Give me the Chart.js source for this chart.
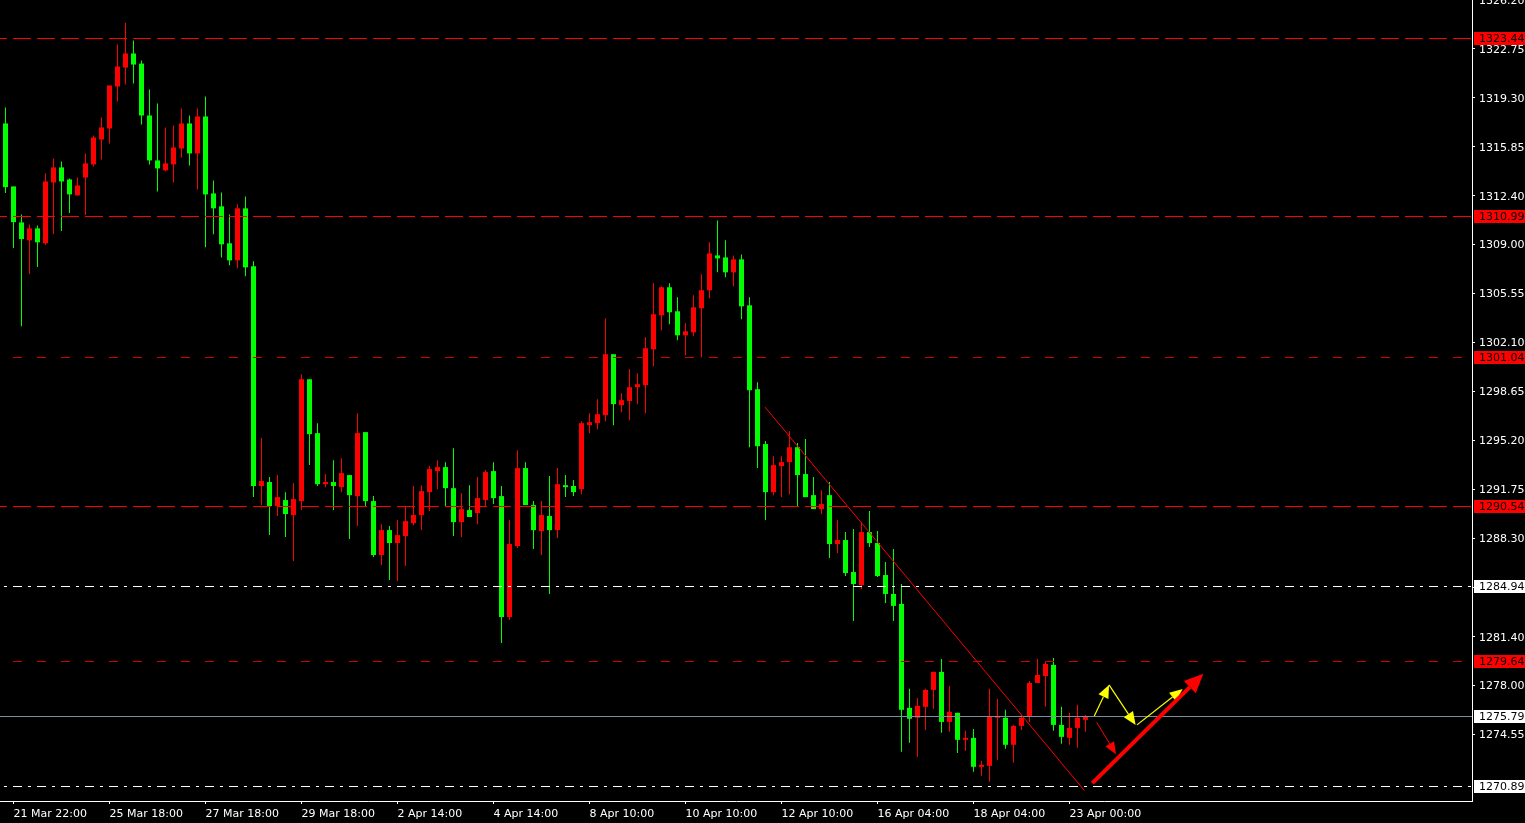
<!DOCTYPE html>
<html>
<head>
<meta charset="utf-8">
<title>XAUUSD H4</title>
<script src="https://cdn.jsdelivr.net/npm/chart.js@4.4.1/dist/chart.umd.min.js"></script>
<style>
  html, body { margin: 0; padding: 0; background: #000; overflow: hidden; }
  canvas { display: block; }
</style>
</head>
<body>
<canvas id="grafico" width="1525" height="823"></canvas>
<script>
// H4 candles, oldest first
const abertura = [
  1317.50, 1313.07, 1310.54, 1309.28, 1310.12, 1309.07, 1313.35, 1314.41, 1313.56, 1312.44,
  1313.70, 1314.62, 1316.37, 1317.15, 1320.10, 1321.43, 1322.42, 1321.71, 1318.06, 1314.90,
  1314.20, 1314.62, 1315.74, 1317.50, 1315.39, 1317.99, 1312.58, 1311.67, 1309.07, 1307.87,
  1311.53, 1307.45, 1292.00, 1292.28, 1290.59, 1291.01, 1289.96, 1290.94, 1299.51, 1295.72,
  1292.13, 1292.28, 1291.92, 1292.77, 1291.29, 1295.79, 1290.94, 1287.15, 1288.90, 1287.99,
  1288.48, 1289.39, 1289.96, 1291.57, 1293.05, 1293.33, 1291.85, 1289.46, 1290.31, 1290.10,
  1291.01, 1293.05, 1291.29, 1282.79, 1287.78, 1293.26, 1290.66, 1288.83, 1289.89, 1288.90,
  1292.06, 1292.00, 1291.78, 1296.28, 1296.42, 1296.98, 1301.27, 1297.69, 1297.97, 1298.95,
  1299.09, 1301.62, 1304.01, 1305.98, 1304.29, 1302.60, 1302.81, 1304.50, 1305.77, 1308.22,
  1308.08, 1307.03, 1307.94, 1304.71, 1298.81, 1294.95, 1291.57, 1293.40, 1293.68, 1294.73,
  1292.84, 1291.36, 1290.38, 1291.36, 1287.92, 1288.20, 1285.95, 1285.04, 1288.76, 1287.99,
  1285.74, 1284.41, 1283.71, 1276.40, 1275.70, 1276.47, 1277.66, 1278.93, 1275.41, 1276.05,
  1274.15, 1274.29, 1272.25, 1272.32, 1275.70, 1275.70, 1273.80, 1275.13, 1275.83, 1278.15,
  1278.64, 1279.42, 1275.20, 1274.29, 1274.99, 1275.55
];
const maxima = [
  1318.62, 1313.07, 1311.10, 1310.40, 1310.33, 1313.99, 1315.04, 1314.83, 1313.63, 1313.70,
  1315.39, 1316.66, 1317.92, 1320.17, 1323.05, 1324.59, 1323.33, 1321.92, 1319.89, 1318.90,
  1317.22, 1317.36, 1318.55, 1318.06, 1318.55, 1319.40, 1313.49, 1312.65, 1311.10, 1311.81,
  1312.37, 1307.80, 1295.37, 1292.63, 1292.77, 1291.57, 1292.20, 1299.86, 1299.51, 1296.42,
  1292.84, 1293.82, 1293.96, 1292.77, 1297.12, 1295.79, 1291.29, 1289.32, 1289.18, 1289.61,
  1290.59, 1292.00, 1292.06, 1293.40, 1293.82, 1293.68, 1294.66, 1291.50, 1292.06, 1292.63,
  1293.12, 1293.68, 1292.00, 1289.61, 1294.52, 1293.68, 1290.94, 1290.94, 1292.70, 1293.26,
  1292.77, 1292.42, 1296.56, 1297.12, 1298.11, 1303.80, 1301.27, 1298.53, 1300.21, 1299.93,
  1302.46, 1306.26, 1306.05, 1306.26, 1305.27, 1303.45, 1305.41, 1306.89, 1309.14, 1310.68,
  1309.28, 1308.22, 1308.29, 1305.27, 1299.30, 1295.16, 1294.10, 1294.10, 1295.86, 1295.02,
  1295.30, 1292.63, 1291.71, 1292.28, 1289.61, 1288.76, 1288.97, 1289.46, 1290.24, 1288.83,
  1286.66, 1287.57, 1285.11, 1277.74, 1277.10, 1277.74, 1278.93, 1279.84, 1277.94, 1276.05,
  1274.78, 1274.92, 1272.67, 1277.74, 1277.03, 1276.26, 1275.20, 1275.90, 1278.29, 1279.84,
  1279.70, 1279.91, 1276.47, 1276.05, 1276.61, 1275.90
];
const minimas = [
  1312.60, 1308.74, 1303.24, 1306.91, 1307.40, 1308.93, 1309.72, 1309.93, 1311.20, 1312.44,
  1311.06, 1314.48, 1314.97, 1316.09, 1319.04, 1320.24, 1320.31, 1317.43, 1314.62, 1312.72,
  1314.13, 1313.35, 1315.11, 1314.55, 1312.86, 1308.79, 1309.70, 1308.08, 1307.52, 1307.31,
  1306.75, 1291.22, 1290.66, 1288.55, 1289.89, 1288.41, 1286.72, 1290.31, 1293.47, 1292.00,
  1291.92, 1290.31, 1291.57, 1288.27, 1289.18, 1290.59, 1287.01, 1286.44, 1285.39, 1285.32,
  1286.37, 1289.25, 1288.90, 1290.24, 1291.78, 1290.59, 1288.48, 1288.41, 1289.82, 1289.32,
  1290.59, 1290.73, 1280.96, 1282.58, 1287.64, 1290.66, 1287.57, 1287.15, 1284.41, 1288.34,
  1291.22, 1291.29, 1291.43, 1295.72, 1296.00, 1296.56, 1296.28, 1297.19, 1296.63, 1297.76,
  1297.12, 1300.43, 1302.95, 1303.38, 1302.25, 1301.20, 1302.53, 1301.06, 1305.20, 1307.03,
  1306.68, 1306.05, 1303.73, 1294.73, 1293.26, 1289.61, 1291.36, 1291.22, 1291.43, 1290.59,
  1291.22, 1290.38, 1290.03, 1286.94, 1287.29, 1285.67, 1282.51, 1284.76, 1287.71, 1285.60,
  1283.78, 1282.51, 1273.31, 1273.94, 1272.96, 1274.85, 1276.33, 1274.64, 1274.71, 1273.23,
  1273.38, 1271.90, 1271.62, 1271.20, 1272.74, 1273.52, 1272.53, 1274.85, 1275.41, 1278.15,
  1276.47, 1274.78, 1273.87, 1273.80, 1273.59, 1274.71
];
const fechamento = [
  1313.02, 1310.56, 1309.37, 1310.12, 1309.14, 1313.42, 1314.41, 1313.42, 1312.51, 1313.14,
  1314.69, 1316.51, 1317.22, 1320.17, 1321.50, 1322.42, 1321.64, 1318.06, 1314.90, 1314.34,
  1314.69, 1315.81, 1317.50, 1315.39, 1317.99, 1312.51, 1311.53, 1309.00, 1307.87, 1311.53,
  1307.38, 1292.00, 1292.35, 1290.59, 1291.22, 1290.03, 1291.08, 1299.51, 1295.65, 1292.13,
  1292.28, 1292.00, 1292.91, 1291.36, 1295.72, 1290.94, 1287.15, 1288.90, 1287.99, 1288.55,
  1289.53, 1289.96, 1291.64, 1293.19, 1293.33, 1291.85, 1289.46, 1290.38, 1289.82, 1291.15,
  1292.98, 1291.15, 1282.79, 1287.92, 1293.26, 1290.66, 1288.90, 1289.96, 1288.90, 1292.13,
  1291.92, 1291.57, 1296.42, 1296.49, 1297.05, 1301.27, 1297.76, 1298.04, 1298.95, 1299.16,
  1301.69, 1304.08, 1305.98, 1304.22, 1302.60, 1302.88, 1304.57, 1305.77, 1308.36, 1308.01,
  1307.03, 1307.94, 1304.64, 1298.74, 1294.80, 1291.57, 1293.47, 1293.68, 1294.73, 1292.77,
  1291.22, 1290.38, 1290.73, 1287.92, 1288.20, 1285.88, 1285.11, 1288.76, 1287.99, 1285.67,
  1284.41, 1283.57, 1276.26, 1275.63, 1276.54, 1277.66, 1278.93, 1275.41, 1276.12, 1274.15,
  1274.29, 1272.25, 1272.39, 1275.76, 1275.83, 1273.80, 1275.13, 1275.70, 1278.15, 1278.71,
  1279.49, 1275.20, 1274.36, 1274.99, 1275.70, 1275.79
];

// time axis: candle index of each label
const rotuloIdx = [1, 13, 25, 37, 49, 61, 73, 85, 97, 109, 121, 133];
const rotulos = ["21 Mar 22:00", "25 Mar 18:00", "27 Mar 18:00", "29 Mar 18:00", "2 Apr 14:00", "4 Apr 14:00",
                 "8 Apr 10:00", "10 Apr 10:00", "12 Apr 10:00", "16 Apr 04:00", "18 Apr 04:00", "23 Apr 00:00"];

// price axis
const precoTicks = [1326.20, 1322.75, 1319.30, 1315.85, 1312.40, 1309.00, 1305.55, 1302.10, 1298.65,
                    1295.20, 1291.75, 1288.30, 1284.85, 1281.40, 1278.00, 1274.55];
const precoMin = 1269.848;
const precoMax = 1326.182;
const idxMin = -0.6875;
const idxMax = 183.3125;

// horizontal levels drawn on the chart
const niveis = [1323.44, 1310.99, 1301.04, 1290.54, 1284.94, 1279.64, 1275.79, 1270.89];
const niveisTipo = ["forte", "forte", "fraco", "forte", "ponto", "fraco", "bid", "ponto"];

// trend line and arrows, as [candle index, price]
const tendenciaIni = [94.94, 1297.55];
const tendenciaFim = [134.85, 1270.59];
const setaIni = [[136.1, 1275.83], [137.94, 1278.01], [141.44, 1275.20], [136.4, 1275.39], [135.85, 1271.11]];
const setaFim = [[137.94, 1278.01], [141.27, 1275.20], [147.15, 1277.73], [138.81, 1273.14], [149.73, 1278.79]];
const setaTipo = ["amarela", "amarela", "amarela", "vermelha", "grande"];

const estilosNivel = {
  forte: { cor: '#ff0000', dash: [18, 6], caixa: '#ff0000', texto: '#000000' },
  fraco: { cor: '#d00000', dash: [9, 15], caixa: '#ff0000', texto: '#000000' },
  ponto: { cor: '#ffffff', dash: [9, 6, 3, 6], caixa: '#ffffff', texto: '#000000' },
  bid: { cor: '#7f8ca0', dash: [], caixa: '#ffffff', texto: '#000000' }
};
const estilosSeta = {
  amarela: { cor: '#ffff00', largura: 1.2, cabeca: 13, abertura: 5.5 },
  vermelha: { cor: '#ff0000', largura: 1, cabeca: 12, abertura: 5 },
  grande: { cor: '#ff0000', largura: 4, cabeca: 19, abertura: 8.5 }
};

const fonte = { family: 'DejaVu Sans', size: 11 };
const corAlta = '#ff0000';
const corBaixa = '#00ff00';

const cores = abertura.map((a, i) => fechamento[i] >= a ? corAlta : corBaixa);
const corpos = abertura.map((a, i) => ({ x: i, y: [a, fechamento[i]] }));
const pavios = abertura.map((a, i) => ({ x: i, y: [minimas[i], maxima[i]] }));

function desenharSeta(ctx, x0, y0, x1, y1, st) {
  const ang = Math.atan2(y1 - y0, x1 - x0);
  const bx = x1 - st.cabeca * Math.cos(ang);
  const by = y1 - st.cabeca * Math.sin(ang);
  ctx.setLineDash([]);
  ctx.strokeStyle = st.cor;
  ctx.fillStyle = st.cor;
  ctx.lineWidth = st.largura;
  ctx.beginPath();
  ctx.moveTo(x0, y0);
  ctx.lineTo(bx, by);
  ctx.stroke();
  ctx.beginPath();
  ctx.moveTo(x1, y1);
  ctx.lineTo(bx + st.abertura * Math.sin(ang), by - st.abertura * Math.cos(ang));
  ctx.lineTo(bx - st.abertura * Math.sin(ang), by + st.abertura * Math.cos(ang));
  ctx.closePath();
  ctx.fill();
}

const pluginObjetos = {
  id: 'objetos',
  afterDatasetsDraw(chart) {
    const { ctx, chartArea: area, scales: { x, y } } = chart;
    ctx.save();
    ctx.beginPath();
    ctx.rect(area.left, area.top, area.width, area.height);
    ctx.clip();

    niveis.forEach((p, i) => {
      const st = estilosNivel[niveisTipo[i]];
      const py = Math.floor(y.getPixelForValue(p)) + 0.5;
      ctx.strokeStyle = st.cor;
      ctx.lineWidth = 1;
      ctx.setLineDash(st.dash);
      ctx.lineDashOffset = 11;
      ctx.beginPath();
      ctx.moveTo(area.left, py);
      ctx.lineTo(area.right, py);
      ctx.stroke();
    });

    ctx.setLineDash([]);
    ctx.strokeStyle = '#ff0000';
    ctx.lineWidth = 1;
    ctx.beginPath();
    ctx.moveTo(x.getPixelForValue(tendenciaIni[0]), y.getPixelForValue(tendenciaIni[1]));
    ctx.lineTo(x.getPixelForValue(tendenciaFim[0]), y.getPixelForValue(tendenciaFim[1]));
    ctx.stroke();

    setaIni.forEach((ini, i) => {
      const fim = setaFim[i];
      desenharSeta(ctx,
        x.getPixelForValue(ini[0]), y.getPixelForValue(ini[1]),
        x.getPixelForValue(fim[0]), y.getPixelForValue(fim[1]),
        estilosSeta[setaTipo[i]]);
    });
    ctx.restore();
  },
  afterDraw(chart) {
    const { ctx, chartArea: area, scales: { y } } = chart;
    ctx.save();
    ctx.font = `${fonte.size}px "${fonte.family}"`;
    ctx.textBaseline = 'middle';
    ctx.textAlign = 'left';
    niveis.forEach((p, i) => {
      const st = estilosNivel[niveisTipo[i]];
      const py = Math.floor(y.getPixelForValue(p));
      ctx.fillStyle = st.caixa;
      ctx.fillRect(area.right + 2, py - 6, chart.width - area.right - 2, 13);
      ctx.fillStyle = st.texto;
      ctx.fillText(p.toFixed(2), area.right + 7, py + 1);
    });
    ctx.restore();
  }
};

new Chart(document.getElementById('grafico'), {
  type: 'bar',
  data: {
    datasets: [
      {
        data: corpos,
        backgroundColor: cores,
        borderWidth: 0,
        barThickness: 5,
        minBarLength: 1,
        inflateAmount: 0,
        grouped: false
      },
      {
        data: pavios,
        backgroundColor: cores,
        borderWidth: 0,
        barThickness: 1,
        inflateAmount: 0,
        grouped: false
      }
    ]
  },
  options: {
    responsive: false,
    animation: false,
    events: [],
    layout: { padding: 0 },
    plugins: { legend: { display: false }, tooltip: { enabled: false } },
    scales: {
      x: {
        type: 'linear',
        position: 'bottom',
        min: idxMin,
        max: idxMax,
        offset: false,
        grid: { display: true, drawOnChartArea: false, offset: false, color: '#ffffff', tickLength: 3 },
        border: { display: true, color: '#ffffff', width: 1 },
        ticks: {
          autoSkip: false,
          maxRotation: 0,
          minRotation: 0,
          align: 'start',
          padding: 4,
          color: '#ffffff',
          font: fonte,
          callback: (v) => rotulos[rotuloIdx.indexOf(v)] || ''
        },
        afterBuildTicks: (s) => { s.ticks = rotuloIdx.map(v => ({ value: v })); },
        afterFit: (s) => { s.height = 22; s.paddingLeft = 0; s.paddingRight = 0; }
      },
      y: {
        type: 'linear',
        position: 'right',
        min: precoMin,
        max: precoMax,
        beginAtZero: false,
        grid: { display: true, drawOnChartArea: false, color: '#ffffff', tickLength: 3 },
        border: { display: true, color: '#ffffff', width: 1 },
        ticks: {
          padding: 4,
          labelOffset: 1,
          crossAlign: 'near',
          color: '#ffffff',
          font: fonte,
          callback: (v) => Number(v).toFixed(2)
        },
        afterBuildTicks: (s) => { s.ticks = precoTicks.map(v => ({ value: v })); },
        afterFit: (s) => { s.width = 53; s.paddingTop = 0; s.paddingBottom = 0; }
      }
    }
  },
  plugins: [pluginObjetos]
});
</script>
</body>
</html>
